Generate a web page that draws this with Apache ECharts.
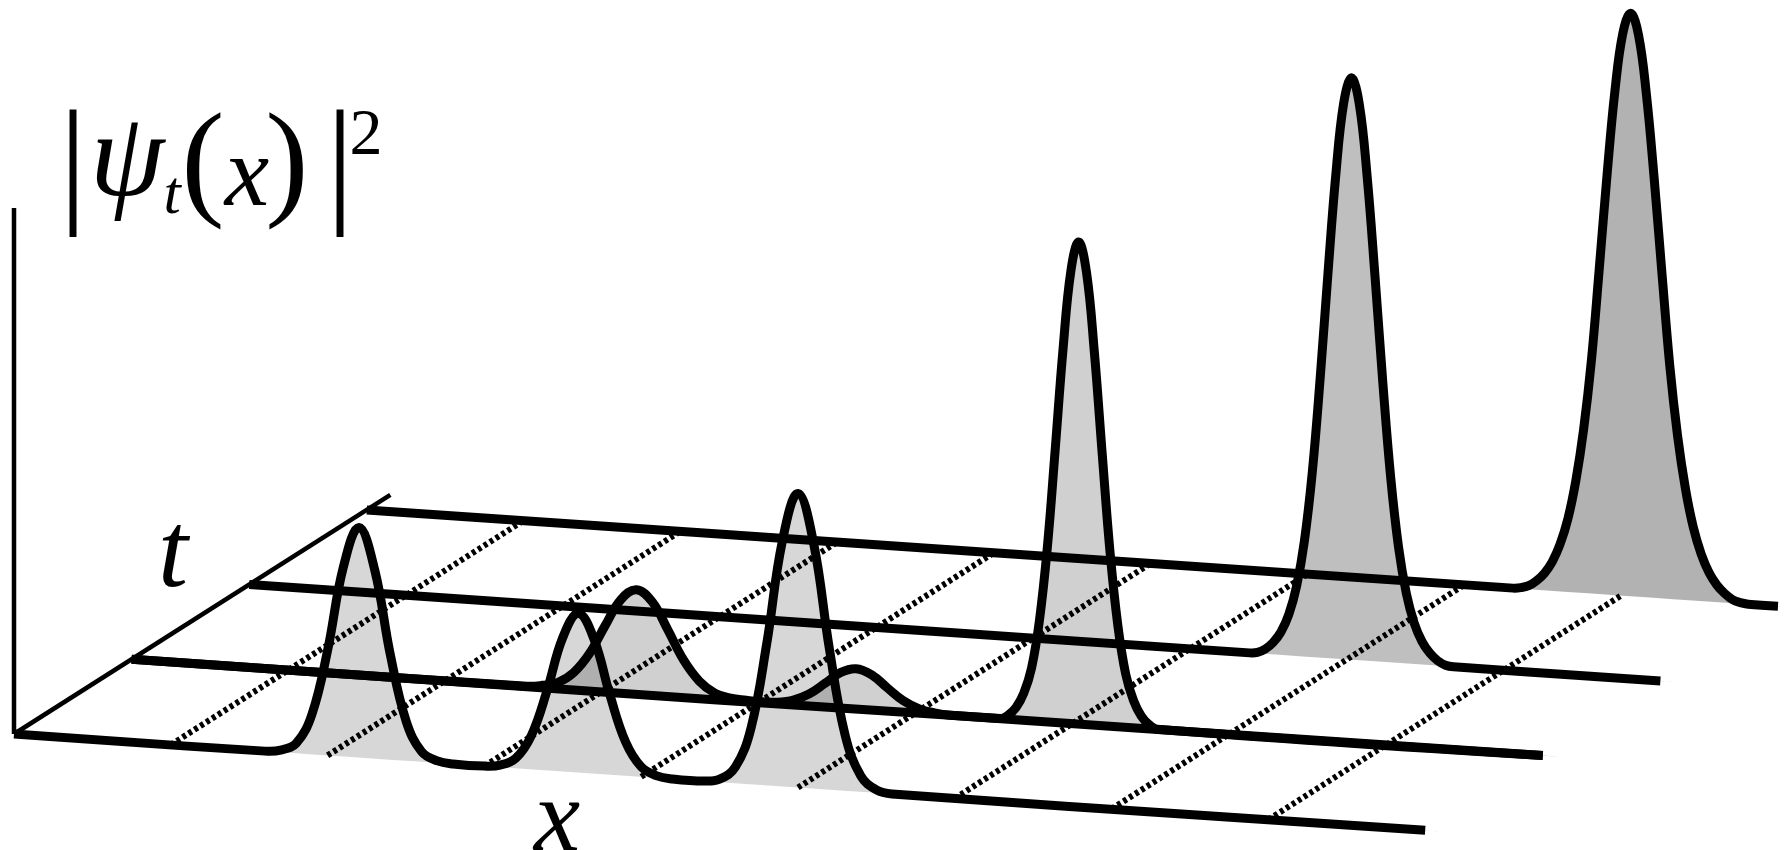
<!DOCTYPE html>
<html>
<head>
<meta charset="utf-8">
<script src="https://cdn.jsdelivr.net/npm/echarts@6.0.0/dist/echarts.min.js"></script>
<style>
  html, body { margin: 0; padding: 0; background: #fff; }
  #chart { width: 1790px; height: 850px; }
</style>
</head>
<body>
<div id="chart"></div>
<script>
// Probability density |psi_t(x)|^2 at four successive times, front (t = 0) to back (t = 3).
// Each curve is a list of [x, density] samples along the x axis (x runs 0..9).
const timeSlices = [0, 1, 2, 3];

const densityT0 = [
  [0, 0], [1.6, 0], [1.7, 0.02], [1.8, 0.10], [1.9, 0.40], [2.0, 1.05], [2.1, 1.89],
  [2.2, 2.30], [2.3, 1.89], [2.4, 1.05], [2.5, 0.40], [2.6, 0.10], [2.7, 0.02], [2.8, 0],
  [3.0, 0], [3.1, 0.02], [3.2, 0.10], [3.3, 0.34], [3.4, 0.80], [3.5, 1.34],
  [3.6, 1.59], [3.7, 1.34], [3.8, 0.80], [3.9, 0.34], [4.0, 0.10], [4.1, 0.02], [4.2, 0],
  [4.4, 0], [4.5, 0.03], [4.6, 0.16], [4.7, 0.56], [4.8, 1.41], [4.9, 2.45],
  [5.0, 2.94], [5.1, 2.45], [5.2, 1.41], [5.3, 0.56], [5.4, 0.16], [5.5, 0.03], [5.6, 0],
  [9, 0]
];

// at t = 1 the packet has split: a spread-out part with a small ripple ...
const densityT1Spread = [
  [0, 0], [2.52, 0], [2.62, 0.02], [2.72, 0.06], [2.82, 0.17], [2.92, 0.37], [3.02, 0.66],
  [3.12, 0.93], [3.22, 1.04], [3.32, 0.93], [3.42, 0.66], [3.52, 0.37], [3.62, 0.17],
  [3.72, 0.06], [3.82, 0.02], [3.92, 0.01], [4.02, 0.005], [4.12, 0.012], [4.22, 0.044],
  [4.32, 0.115], [4.42, 0.23], [4.52, 0.35], [4.62, 0.40], [4.72, 0.35], [4.82, 0.23],
  [4.92, 0.115], [5.02, 0.044], [5.12, 0.012], [5.22, 0], [9, 0]
];

// ... and a sharp peak further along x
const densityT1Sharp = [
  [0, 0], [5.54, 0], [5.59, 0.04], [5.64, 0.12], [5.69, 0.27], [5.74, 0.53], [5.79, 1.01],
  [5.84, 1.74], [5.89, 2.72], [5.94, 3.73], [5.99, 4.52], [6.04, 4.82], [6.09, 4.52],
  [6.14, 3.73], [6.19, 2.72], [6.24, 1.74], [6.29, 1.01], [6.34, 0.53], [6.39, 0.27],
  [6.44, 0.12], [6.49, 0.04], [6.54, 0], [9, 0]
];

const densityT2 = [
  [0, 0], [6.38, 0], [6.43, 0.01], [6.48, 0.05], [6.53, 0.12], [6.58, 0.23], [6.63, 0.41],
  [6.68, 0.70], [6.73, 1.16], [6.78, 1.85], [6.83, 2.79], [6.88, 3.85], [6.93, 4.84],
  [6.98, 5.56], [7.03, 5.82], [7.08, 5.56], [7.13, 4.84], [7.18, 3.85], [7.23, 2.79],
  [7.28, 1.85], [7.33, 1.16], [7.38, 0.70], [7.43, 0.41], [7.48, 0.23], [7.53, 0.12],
  [7.58, 0.05], [7.63, 0.01], [7.68, 0], [9, 0]
];

const densityT3 = [
  [0, 0], [7.31, 0], [7.36, 0.01], [7.41, 0.035], [7.46, 0.09], [7.51, 0.17], [7.56, 0.29],
  [7.61, 0.47], [7.66, 0.73], [7.71, 1.11], [7.76, 1.63], [7.81, 2.33], [7.86, 3.25],
  [7.91, 4.20], [7.96, 5.04], [8.01, 5.62], [8.06, 5.83], [8.11, 5.62], [8.16, 5.04],
  [8.21, 4.20], [8.26, 3.25], [8.31, 2.33], [8.36, 1.63], [8.41, 1.11], [8.46, 0.73],
  [8.51, 0.47], [8.56, 0.29], [8.61, 0.17], [8.66, 0.09], [8.71, 0.035], [8.76, 0.01],
  [8.81, 0], [9, 0]
];

// x positions of the dotted guide lines running along t on the floor
const gridX = [1, 2, 3, 4, 5, 6, 7, 8];

// extents of the two drawn axes (density axis and time axis)
const densityAxisTop = 5.26;
const timeAxisEnd = 3.2;

const axisTitles = { x: 'x', t: 't' };

// every drawn curve with the time slice it belongs to
const curves = [
  { t: 0, data: densityT0 },
  { t: 1, data: densityT1Spread },
  { t: 1, data: densityT1Sharp },
  { t: 2, data: densityT2 },
  { t: 3, data: densityT3 }
];
const sliceFill = ['rgba(0,0,0,0.155)', 'rgba(0,0,0,0.185)', 'rgba(0,0,0,0.25)', 'rgba(0,0,0,0.30)'];

// Oblique projection of (x, t, density) onto the flat value plane.
// x runs slightly downhill, t recedes up and to the right, density is straight up.
function project(x, t, z) {
  return [x + 0.75 * t, z + 0.747 * t - 0.107 * x];
}

function curvePoints(api, i) {
  const c = curves[i];
  return c.data.map(function (p) { return api.coord(project(p[0], c.t, p[1])); });
}

const SMOOTH = 0.4;
const CURVE_WIDTH = 9;

const chart = echarts.init(document.getElementById('chart'), null, { renderer: 'canvas' });

function txt(text, x, y, font) {
  return {
    type: 'text', x: x, y: y, silent: true,
    style: {
      text: text, font: font, fill: '#000',
      align: 'center', verticalAlign: 'middle',
      textAlign: 'center', textVerticalAlign: 'middle'
    }
  };
}

const SERIF = '"Liberation Serif", "DejaVu Serif", serif';

const option = {
  animation: false,
  backgroundColor: '#ffffff',
  grid: { left: 0, right: 0, top: 0, bottom: 0 },
  xAxis: { type: 'value', min: -0.0893, max: 11.3266, show: false },
  yAxis: { type: 'value', min: -1.16, max: 7.34, show: false },
  series: [
    {
      // dotted floor lines of constant x
      type: 'custom', z: 1, silent: true,
      data: gridX.map(function (x) { return [x, 0]; }),
      renderItem: function (params, api) {
        const x = api.value(0);
        const a = api.coord(project(x, timeSlices[0], 0));
        const b = api.coord(project(x, timeSlices[timeSlices.length - 1], 0));
        return {
          type: 'line',
          shape: { x1: a[0], y1: a[1], x2: b[0], y2: b[1] },
          style: { stroke: '#000', lineWidth: 6, lineDash: [3.8, 3.2] }
        };
      }
    },
    {
      // shaded area under each density curve
      type: 'custom', z: 2, silent: true,
      data: curves.map(function (c, i) { return [i, 0]; }),
      renderItem: function (params, api) {
        const i = api.value(0);
        return {
          type: 'polygon',
          shape: { points: curvePoints(api, i), smooth: SMOOTH },
          style: { fill: sliceFill[curves[i].t], stroke: null }
        };
      }
    },
    {
      // density curves
      type: 'custom', z: 3, silent: true,
      data: curves.map(function (c, i) { return [i, 0]; }),
      renderItem: function (params, api) {
        const i = api.value(0);
        return {
          type: 'polyline',
          shape: { points: curvePoints(api, i), smooth: SMOOTH },
          style: { stroke: '#000', lineWidth: CURVE_WIDTH, fill: null, lineJoin: 'round' }
        };
      }
    },
    {
      // density axis (vertical) and time axis (receding)
      type: 'custom', z: 4, silent: true,
      data: [[0, 0], [1, 0]],
      renderItem: function (params, api) {
        const which = api.value(0);
        const o = api.coord(project(0, 0, 0));
        const e = which === 0
          ? api.coord(project(0, 0, densityAxisTop))
          : api.coord(project(0, timeAxisEnd, 0));
        return {
          type: 'line',
          shape: { x1: o[0], y1: o[1], x2: e[0], y2: e[1] },
          style: { stroke: '#000', lineWidth: 4.5, lineCap: 'butt' }
        };
      }
    }
  ],
  graphic: {
    elements: [
      txt('|', 73, 170, '140px ' + SERIF),
      txt('\u03C8', 127, 163, 'italic 120px ' + SERIF),
      txt('t', 172, 197, 'italic 62px ' + SERIF),
      txt('(', 203, 168, '130px ' + SERIF),
      txt('x', 247, 179, 'italic 100px ' + SERIF),
      txt(')', 287, 168, '130px ' + SERIF),
      txt('|', 340, 170, '140px ' + SERIF),
      txt('2', 366, 137, '66px ' + SERIF),
      txt(axisTitles.t, 173, 558, 'italic 108px ' + SERIF),
      txt(axisTitles.x, 557, 823, 'italic 104px ' + SERIF)
    ]
  }
};

chart.setOption(option);
</script>
</body>
</html>
